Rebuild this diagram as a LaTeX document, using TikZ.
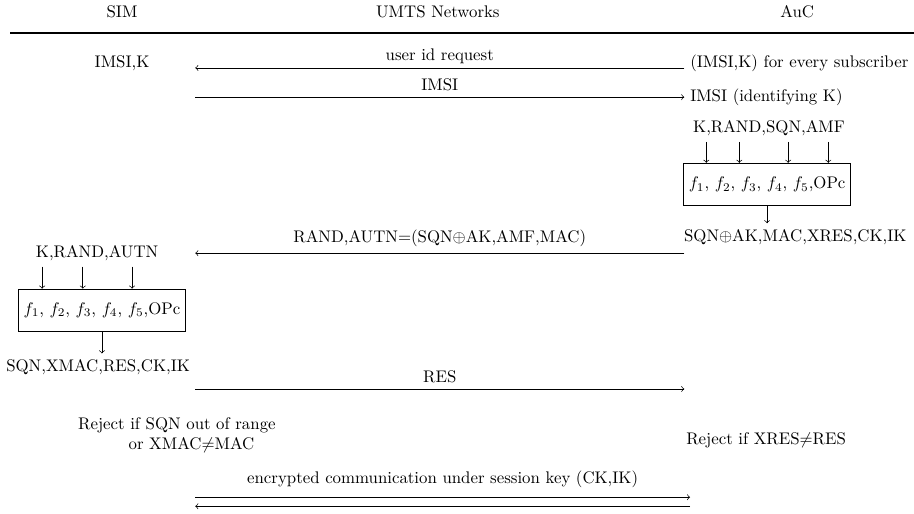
\documentclass[tikz,border=0pt]{standalone}
\usepackage{tikz}
\usetikzlibrary{arrows.meta, positioning}

\begin{document}
\begin{tikzpicture}[>={Classical TikZ Rightarrow[]},
    fbox/.style={draw, inner xsep=3pt, minimum height=0.88cm}]
    \useasboundingbox (0,0) rectangle (19.10,10.74);

    % parties
    \node (sim) at (2.55,10.49) {SIM};
    \node (umts) at (9.15,10.49) {UMTS Networks};
    \node (auc) at (16.66,10.49) {AuC};
    \draw[line width=1.2pt] (0.21,10.04) -- (19.10,10.04);

    \node (simkey) at (2.55,9.42) {IMSI,K};
    \node[anchor=west] (auckey) at (14.30,9.42) {(IMSI,K) for every subscriber};

    \coordinate (reqL) at (4.08,9.32);
    \coordinate (reqR) at (14.30,9.32);
    \draw[->] (reqR) -- (reqL) node[pos=0.5,above=-1pt] (reqlbl) {user id request};

    \coordinate (imsiL) at (4.08,8.71);
    \coordinate (imsiR) at (14.30,8.71);
    \draw[->] (imsiL) -- (imsiR) node[pos=0.5,above] (imsilbl) {IMSI};
    \node[right=0pt of imsiR] (aucid) {IMSI (identifying K)};

    % AuC side
    \node (aucin) at (16.07,8.06) {K,RAND,SQN,AMF};
    \node[fbox] (aucbox) at (16.03,6.89) {$f_1$, $f_2$, $f_3$, $f_4$, $f_5$,OPc};
    \foreach \x in {14.76,15.45,16.47,17.31}
        \draw[->] (aucin.south -| \x,0) -- (aucbox.north -| \x,0);
    \node (aucout) at (16.62,5.79) {SQN$\oplus$AK,MAC,XRES,CK,IK};
    \draw[->] (aucbox.south) -- (aucbox.south |- aucout.north);

    \coordinate (randL) at (4.08,5.45);
    \coordinate (randR) at (14.30,5.45);
    \draw[->] (randR) -- (randL) node[pos=0.5,above] (randlbl) {RAND,AUTN=(SQN$\oplus$AK,AMF,MAC)};

    % SIM side
    \node (simin) at (2.03,5.45) {K,RAND,AUTN};
    \node[fbox] (simbox) at (2.13,4.26) {$f_1$, $f_2$, $f_3$, $f_4$, $f_5$,OPc};
    \foreach \x in {0.88,1.73,2.76}
        \draw[->] (simin.south -| \x,0) -- (simbox.north -| \x,0);
    \node (simout) at (2.05,3.07) {SQN,XMAC,RES,CK,IK};
    \draw[->] (simbox.south) -- (simbox.south |- simout.north);

    \coordinate (resL) at (4.08,2.61);
    \coordinate (resR) at (14.30,2.61);
    \draw[->] (resL) -- (resR) node[pos=0.5,above] (reslbl) {RES};

    \node[anchor=west, align=left] (simchk) at (1.51,1.64)
        {Reject if SQN out of range\\\hspace*{3em}or XMAC$\neq$MAC};
    \node (aucchk) at (16.01,1.54) {Reject if XRES$\neq$RES};

    % session
    \coordinate (encL) at (4.08,0.35);
    \coordinate (encR) at (14.42,0.35);
    \coordinate (decL) at (4.08,0.16);
    \coordinate (decR) at (14.42,0.16);
    \draw[->] (encL) -- (encR) node[pos=0.5,above=2pt] (enclbl) {encrypted communication under session key (CK,IK)};
    \draw[->] (decR) -- (decL);

\end{tikzpicture}
\end{document}
